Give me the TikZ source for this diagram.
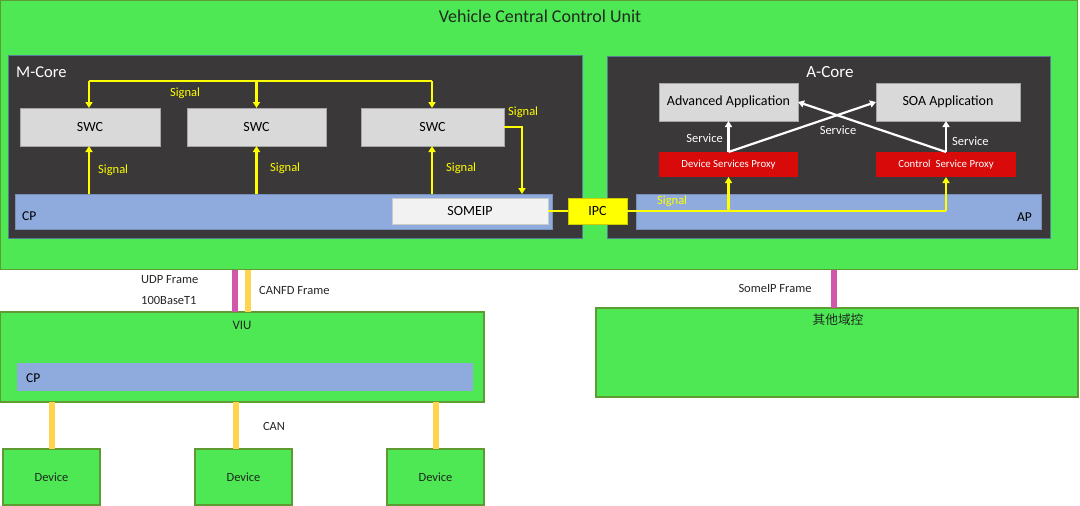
\documentclass[tikz,border=0pt]{standalone}
\usepackage{fontspec}
\setmainfont{Carlito}
\newfontfamily\cjk{Noto Sans CJK SC}
\usetikzlibrary{arrows.meta,calc}
\definecolor{vgreen}{HTML}{4FE855}
\definecolor{vgreenline}{HTML}{5E9B30}
\definecolor{darkfill}{HTML}{3A3838}
\definecolor{darkline}{HTML}{5A7A99}
\definecolor{cpblue}{HTML}{8FAADC}
\definecolor{lgray}{HTML}{D9D9D9}
\definecolor{proxyred}{HTML}{D90A0A}
\definecolor{sigyellow}{HTML}{FFFF00}
\definecolor{pinkline}{HTML}{D357A8}
\definecolor{canyellow}{HTML}{FFD54F}
\definecolor{txtdark}{HTML}{1E2A1E}
\newcommand{\fs}[1]{\fontsize{#1}{#1}\selectfont}
\tikzset{
  box/.style={draw, rectangle, inner sep=0pt, outer sep=0pt},
  greenbox/.style={box, fill=vgreen, draw=vgreenline, line width=1.2pt},
  corebox/.style={box, fill=darkfill, draw=darkline, line width=0.8pt},
  barbox/.style={box, fill=cpblue, draw=cpblue!85!black, line width=0.6pt},
  appbox/.style={box, fill=lgray, draw=gray!70, line width=0.6pt, font=\fs{14}},
  swcbox/.style={appbox, font=\fs{14}},
  proxybox/.style={box, fill=proxyred, draw=none, text=white, font=\fs{10.8}},
  sigline/.style={draw=sigyellow, line width=2.2pt},
  sigarrow/.style={sigline, -{Triangle[width=7pt,length=6pt]}},
  svcarrow/.style={draw=white, line width=2.2pt, -{Triangle[width=7pt,length=6pt]}},
  siglbl/.style={inner sep=0pt, text=sigyellow, font=\fs{12.5}},
  svclbl/.style={inner sep=0pt, text=white, font=\fs{12.5}},
  blbl/.style={inner sep=0pt, text=black!85, font=\fs{12.5}},
  pinklink/.style={draw=pinkline, line width=6pt},
  canlink/.style={draw=canyellow, line width=6pt},
  devbox/.style={greenbox, minimum width=97pt, minimum height=56pt, text=txtdark, font=\fs{12.5}},
}
\begin{document}
\begin{tikzpicture}[x=1pt,y=-1pt]
\useasboundingbox (0,0) rectangle (1080,506);
\fill[white] (0,0) rectangle (1080,506);

% outer unit
\node[greenbox, minimum width=1077pt, minimum height=269pt] (vccu) at (539,135) {};
\node[inner sep=0pt, text=txtdark, font=\fs{18}] (title) at (540,16) {Vehicle Central Control Unit};

% cores
\node[corebox, minimum width=574pt, minimum height=183pt] (mcore) at (295,146.5) {};
\node[inner sep=0pt, anchor=west, text=white, font=\fs{16.5}] (mcorelbl) at (16,72) {M-Core};
\node[corebox, minimum width=443pt, minimum height=182pt] (acore) at (828.5,147) {};
\node[inner sep=0pt, text=white, font=\fs{17}] (acorelbl) at (830,72) {A-Core};

% M-Core contents
\node[barbox, minimum width=537pt, minimum height=35pt] (cp) at (283.5,211.5) {};
\node[inner sep=0pt, anchor=west, font=\fs{13.5}] (cplbl) at (22,216) {CP};
\node[box, fill=white!95!black, draw=gray!40, line width=0.5pt, minimum width=156pt, minimum height=26pt, font=\fs{14}] (someip) at (470,211) {SOMEIP};
\node[swcbox, minimum width=140pt, minimum height=38pt] (swc1) at (90,127) {SWC};
\node[swcbox, minimum width=139pt, minimum height=38pt] (swc2) at (256.5,127) {SWC};
\node[swcbox, minimum width=143pt, minimum height=38pt] (swc3) at (432.5,127) {SWC};

% IPC
\node[box, fill=sigyellow, draw=sigyellow!80!black, line width=0.4pt, minimum width=59pt, minimum height=26pt, font=\fs{14}] (ipc) at (597.5,211) {IPC};

% A-Core contents
\node[barbox, minimum width=405pt, minimum height=35pt] (ap) at (838.5,211.5) {};
\node[inner sep=0pt, anchor=east, font=\fs{13.5}] (aplbl) at (1032,217) {AP};
\node[appbox, minimum width=139pt, minimum height=38pt] (aa) at (728.5,102) {Advanced Application};
\node[appbox, minimum width=144pt, minimum height=38pt] (soa) at (948,102) {SOA Application};
\node[proxybox, minimum width=139pt, minimum height=25pt] (dsp) at (728.5,164.5) {Device Services Proxy};
\node[proxybox, minimum width=140pt, minimum height=25pt] (csp) at (946,164.5) {Control\ \ Service Proxy};

% M-Core signals
\coordinate (busL) at (89,81);
\coordinate (busR) at (432,81);
\draw[sigline] (busL) -- (busR);
\draw[sigarrow] (busL) -- (swc1.north -| busL);
\draw[sigarrow] (swc2.north |- busL) -- (swc2.north);
\draw[sigarrow] (busR) -- (swc3.north -| busR);
\node[siglbl] (sigtop) at (185,93) {Signal};
\draw[sigarrow] (cp.north -| busL) -- (swc1.south -| busL);
\draw[sigarrow] (cp.north -| swc2.south) -- (swc2.south);
\draw[sigarrow] (cp.north -| busR) -- (swc3.south -| busR);
\node[siglbl, anchor=west] (sig1) at (98,170) {Signal};
\node[siglbl, anchor=west] (sig2) at (270,168) {Signal};
\node[siglbl, anchor=west] (sig3) at (446,168) {Signal};
\coordinate (s3x) at (522,127);
\draw[sigarrow] (swc3.east) -- (s3x) -- (s3x |- cp.north);
\node[siglbl, anchor=west] (sig4) at (508,112) {Signal};

% IPC signals
\draw[sigline] (someip.east) -- (ipc.west);
\draw[sigline] (ipc.east) -- (csp.south |- ipc.east);
\draw[sigarrow] (dsp.south |- ipc.east) -- (dsp.south);
\draw[sigarrow] (csp.south |- ipc.east) -- (csp.south);
\node[siglbl, anchor=west] (sig5) at (657,201) {Signal};

% services
\draw[svcarrow] (dsp.north) -- (aa.south);
\draw[svcarrow] (csp.north) -- (soa.south -| csp.north);
\draw[svcarrow] (dsp.north) -- (soa.west);
\draw[svcarrow] (csp.north) -- (aa.east);
\node[svclbl, anchor=east] (svc1) at (723,138) {Service};
\node[svclbl] (svc2) at (838,130) {Service};
\node[svclbl, anchor=west] (svc3) at (952,141) {Service};

% lower part
\node[greenbox, minimum width=484pt, minimum height=90pt] (viu) at (242,357) {};
\node[inner sep=0pt, text=txtdark, font=\fs{13}] (viulbl) at (242,325) {VIU};
\node[barbox, draw=none, minimum width=456pt, minimum height=28pt] (viucp) at (245,377) {};
\node[inner sep=0pt, anchor=west, font=\fs{13.5}] (viucplbl) at (26,378) {CP};

\node[greenbox, minimum width=482pt, minimum height=89pt] (other) at (837,352.5) {};
\node[inner sep=0pt, text=txtdark, font=\cjk\fs{12.7}] (otherlbl) at (838,320) {其他域控};

\draw[pinklink] ([xshift=-7pt]viu.north) -- ([xshift=-7pt]viu.north |- vccu.south);
\draw[canlink] ([xshift=6pt]viu.north) -- ([xshift=6pt]viu.north |- vccu.south);
\node[blbl, anchor=west] (udp) at (141,280) {UDP Frame};
\node[blbl, anchor=west] (base) at (141,300) {100BaseT1};
\node[blbl, anchor=west] (canfd) at (259,290) {CANFD Frame};

\draw[pinklink] ([xshift=-3pt]other.north) -- ([xshift=-3pt]other.north |- vccu.south);
\node[blbl] (someipf) at (775,288) {SomeIP Frame};

% devices
\node[devbox] (dev1) at (51.5,477) {Device};
\node[devbox] (dev2) at (243.5,477) {Device};
\node[devbox] (dev3) at (435.5,477) {Device};
\draw[canlink] (dev1.north) -- (dev1.north |- viu.south);
\draw[canlink] ([xshift=-7.5pt]dev2.north) -- ([xshift=-7.5pt]dev2.north |- viu.south);
\draw[canlink] (dev3.north) -- (dev3.north |- viu.south);
\node[blbl] (can) at (274,426) {CAN};
\end{tikzpicture}
\end{document}
